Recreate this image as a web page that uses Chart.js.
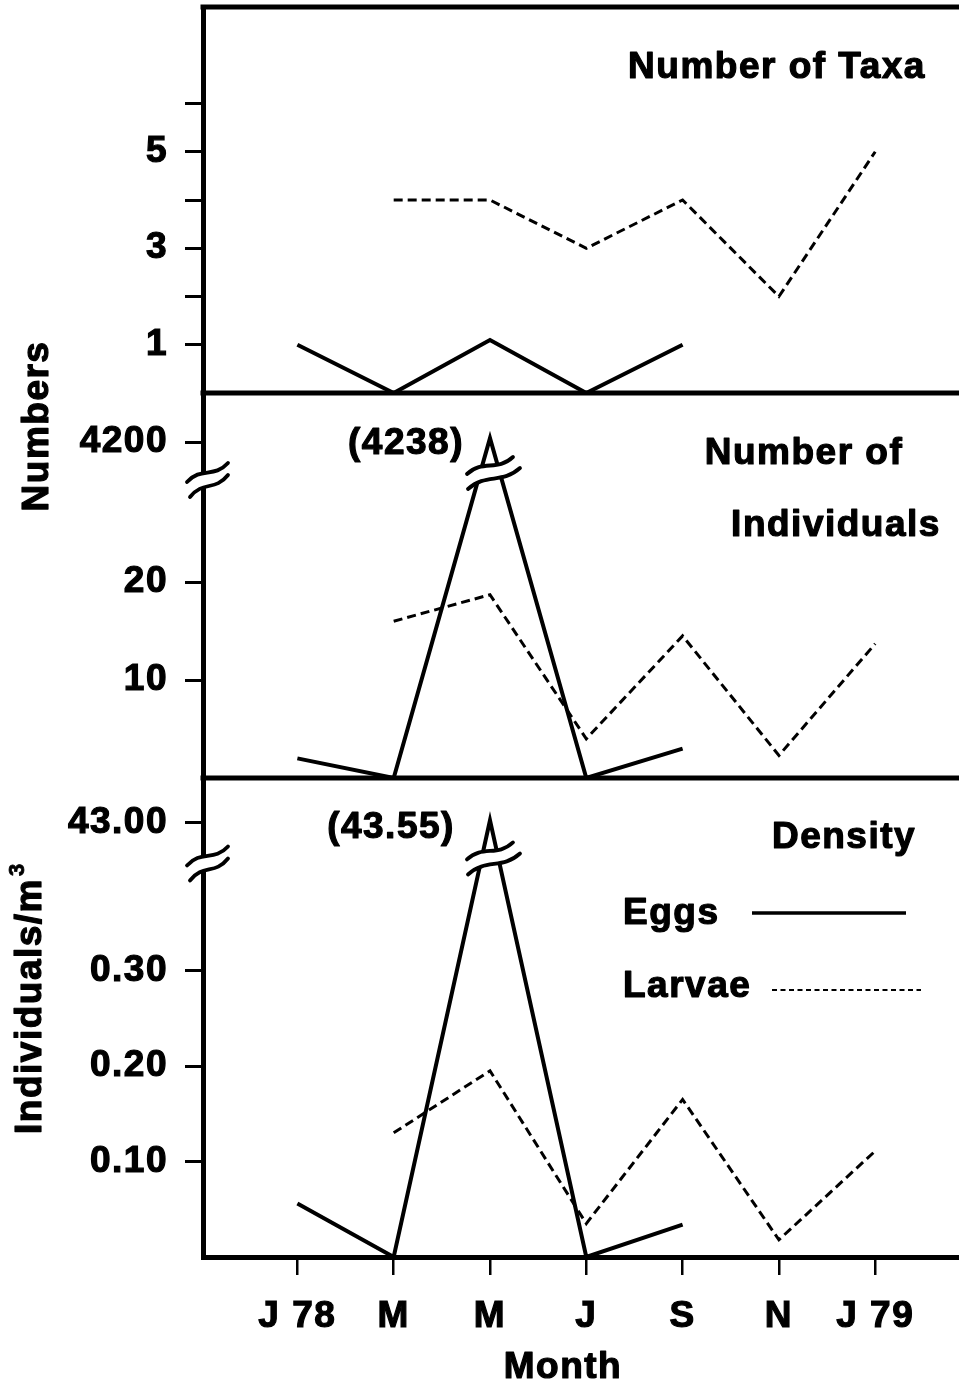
<!DOCTYPE html>
<html><head><meta charset="utf-8">
<script src="https://cdn.jsdelivr.net/npm/chart.js@4.4.1/dist/chart.umd.min.js"></script>
<style>html,body{margin:0;padding:0;background:#fff;overflow:hidden}canvas{display:block}</style>
</head><body>
<canvas id="c" width="959" height="1384"></canvas>
<script>
// ---- data ----
const monthPos = [0, 1, 2, 3, 4, 5, 6];
const monthLabels = ['J 78', 'M', 'M', 'J', 'S', 'N', 'J 79'];
const taxaEggs = [1, 0, 1.1, 0, 1, null, null];
const taxaLarvae = [null, 4, 4, 3, 4, 2, 5];
const indivEggs = [2, 0, 4238, 0, 3, null, null];
const indivLarvae = [null, 16, 18.7, 4, 14.5, 2.3, 13.7];
const densEggs = [0.056, 0, 43.55, 0, 0.034, null, null];
const densLarvae = [null, 0.13, 0.195, 0.035, 0.165, 0.018, 0.111];
const taxaTicks = [1, 2, 3, 4, 5, 6];
const taxaTickLabels = ['1', '', '3', '', '5', ''];
const indivTicks = [10, 20, 4200];
const indivTickLabels = ['10', '20', '4200'];
const densTicks = [0.1, 0.2, 0.3, 43];
const densTickLabels = ['0.10', '0.20', '0.30', '43.00'];
const peakLabels = ['(4238)', '(43.55)'];

// ---- broken linear scale ----
class BrokenScale extends Chart.LinearScale {
  getPixelForValue(v) {
    if (v === null || v === undefined) return NaN;
    const o = this.options;
    const h = this.bottom - this.top;
    const lowH = h * o.brkFrac;
    if (v <= o.brkLow) return this.bottom - (v - this.min) / (o.brkLow - this.min) * lowH;
    if (v < o.brkHigh) return this.bottom - lowH;
    return this.bottom - lowH - (v - o.brkHigh) / (this.max - o.brkHigh) * (h - lowH);
  }
  getValueForPixel(p) {
    const o = this.options;
    const h = this.bottom - this.top;
    const lowH = h * o.brkFrac;
    const d = this.bottom - p;
    if (d <= lowH) return this.min + d / lowH * (o.brkLow - this.min);
    return o.brkHigh + (d - lowH) / (h - lowH) * (this.max - o.brkHigh);
  }
}
BrokenScale.id = 'broken';
BrokenScale.defaults = Chart.LinearScale.defaults;
Chart.register(BrokenScale);

const FAM = "'Liberation Sans', Arial, Helvetica, sans-serif";
const F = (size) => ({ family: FAM, size, weight: 'bold' });
const xy = arr => monthPos.map((x, i) => ({ x, y: arr[i] }));
const solid = { borderColor: '#000', borderWidth: 4, pointRadius: 0, fill: false, tension: 0 };
const dashed = { borderColor: '#000', borderWidth: 3, borderDash: [9, 5], pointRadius: 0, fill: false, tension: 0 };

function zeroPad(s) { s.paddingTop = 0; s.paddingBottom = 0; s.paddingLeft = 0; s.paddingRight = 0; }
function yAxis(extra, ticks, labels) {
  return Object.assign({
    position: 'left', stack: 'panels',
    afterBuildTicks: s => { s.ticks = ticks.map(v => ({ value: v })); },
    afterFit: s => { s.width = 203; zeroPad(s); },
    ticks: { autoSkip: false, padding: 17, color: '#000', font: F(37), textStrokeColor: '#000', textStrokeWidth: 1.2,
             callback: v => { const i = ticks.indexOf(v); return i < 0 ? '' : labels[i]; } },
    grid: { drawOnChartArea: false, drawTicks: true, tickLength: 18, lineWidth: 3, color: '#000' },
    border: { display: true, width: 5, color: '#000' }
  }, extra);
}

const deco = {
  id: 'deco',
  beforeDraw(chart) { chart.ctx.letterSpacing = '1.5px'; },
  afterDraw(chart) {
    const { ctx, chartArea: ca, scales: s } = chart;
    const X = s.x, yT = s.yTaxa, yI = s.yInd, yD = s.yDen;
    ctx.save();
    ctx.strokeStyle = '#000'; ctx.fillStyle = '#000';
    // panel frame lines
    ctx.lineWidth = 5; ctx.lineCap = 'butt';
    [yT.top, yI.top, yD.top].forEach(y => {
      ctx.beginPath(); ctx.moveTo(ca.left - 2.5, y); ctx.lineTo(ca.right, y); ctx.stroke();
    });
    function wavePath(x0, y0, x1, y1) {
      const dx = x1 - x0, dy = y1 - y0;
      ctx.moveTo(x0, y0);
      ctx.bezierCurveTo(x0 + 0.35 * dx, y0 + 0.35 * dy - 9, x0 + 0.65 * dx, y0 + 0.65 * dy + 9, x1, y1);
    }
    function breakMark(cx, cy, a, b) {
      ctx.fillStyle = '#fff';
      ctx.beginPath();
      wavePath(cx + a[0], cy + a[1], cx + a[2], cy + a[3]);
      ctx.lineTo(cx + b[2], cy + b[3]);
      const dx = b[0] - b[2], dy = b[1] - b[3];
      ctx.bezierCurveTo(cx + b[2] + 0.35 * dx, cy + b[3] + 0.35 * dy + 9, cx + b[2] + 0.65 * dx, cy + b[3] + 0.65 * dy - 9, cx + b[0], cy + b[1]);
      ctx.closePath();
      ctx.fill();
      ctx.lineWidth = 3.8; ctx.lineCap = 'round';
      ctx.beginPath(); wavePath(cx + a[0], cy + a[1], cx + a[2], cy + a[3]); ctx.stroke();
      ctx.beginPath(); wavePath(cx + b[0], cy + b[1], cx + b[2], cy + b[3]); ctx.stroke();
    }
    const ax = ca.left + 4;
    const axA = [-20, 3, 21, -16], axB = [-17, 18, 21, -4];
    breakMark(ax, yI.getPixelForValue(yI.options.brkLow) - 5, axA, axB);
    breakMark(ax, yD.getPixelForValue(yD.options.brkLow) - 3, axA, axB);
    const px = X.getPixelForValue(2);
    const pkA = [-25, 2, 21, -15], pkB = [-24, 17, 28, -4];
    breakMark(px + 2, yI.getPixelForValue(yI.options.brkLow) - 12, pkA, pkB);
    breakMark(px + 2, yD.getPixelForValue(yD.options.brkLow) - 8, pkA, pkB);

    // texts
    ctx.fillStyle = '#000'; ctx.strokeStyle = '#000';
    ctx.letterSpacing = '1.5px';
    ctx.font = 'bold 37px ' + FAM;
    ctx.lineWidth = 1.2; ctx.lineJoin = 'round';
    ctx.textBaseline = 'alphabetic';
    const T = (t, x, y) => { ctx.fillText(t, x, y); ctx.strokeText(t, x, y); };
    ctx.textAlign = 'center';
    T('Number of Taxa', 777, 78);
    T('Number of', 804, 464);
    T('Individuals', 836, 536);
    T('Density', 844, 848);
    T(peakLabels[0], 406, 454);
    T(peakLabels[1], 391, 838);
    ctx.textAlign = 'left';
    T('Eggs', 623, 924);
    T('Larvae', 623, 997);
    // legend keys
    ctx.lineCap = 'butt';
    ctx.lineWidth = 3.4; ctx.setLineDash([]);
    ctx.beginPath(); ctx.moveTo(752, 913); ctx.lineTo(906, 913); ctx.stroke();
    ctx.lineWidth = 2.2; ctx.setLineDash([5, 3.5]);
    ctx.beginPath(); ctx.moveTo(772, 990); ctx.lineTo(921, 990); ctx.stroke();
    ctx.setLineDash([]);
    // rotated axis titles
    ctx.lineWidth = 1.2;
    ctx.textAlign = 'center';
    ctx.save(); ctx.translate(48, 426); ctx.rotate(-Math.PI / 2); T('Numbers', 0, 0); ctx.restore();
    ctx.save(); ctx.translate(41, 1000); ctx.rotate(-Math.PI / 2);
    ctx.textAlign = 'right'; T('Individuals/m', 122, 0);
    ctx.font = 'bold 22px ' + FAM; ctx.textAlign = 'left'; ctx.lineWidth = 0.8;
    T('3', 124, -17);
    ctx.restore();
    // x axis title
    ctx.font = 'bold 37px ' + FAM; ctx.textAlign = 'center'; ctx.lineWidth = 1.2;
    T('Month', 563, 1378);
    ctx.restore();
  }
};

new Chart(document.getElementById('c'), {
  type: 'line',
  data: {
    datasets: [
      Object.assign({ label: 'Eggs', data: xy(taxaEggs), yAxisID: 'yTaxa' }, solid),
      Object.assign({ label: 'Larvae', data: xy(taxaLarvae), yAxisID: 'yTaxa' }, dashed),
      Object.assign({ label: 'Eggs', data: xy(indivEggs), yAxisID: 'yInd' }, solid),
      Object.assign({ label: 'Larvae', data: xy(indivLarvae), yAxisID: 'yInd' }, dashed),
      Object.assign({ label: 'Eggs', data: xy(densEggs), yAxisID: 'yDen' }, solid),
      Object.assign({ label: 'Larvae', data: xy(densLarvae), yAxisID: 'yDen' }, dashed)
    ]
  },
  options: {
    responsive: false, animation: false, events: [],
    layout: { padding: { top: 7, left: 0, right: 0, bottom: 0 } },
    plugins: { legend: { display: false }, tooltip: { enabled: false } },
    scales: {
      x: {
        type: 'linear', position: 'bottom', min: -0.98, max: 6.87,
        afterBuildTicks: s => { s.ticks = monthPos.map(v => ({ value: v })); },
        afterFit: s => { s.height = 127; zeroPad(s); },
        ticks: { autoSkip: false, maxRotation: 0, padding: 20, color: '#000', font: F(37), textStrokeColor: '#000', textStrokeWidth: 1.2,
                 callback: v => { const i = monthPos.indexOf(v); return i < 0 ? '' : monthLabels[i]; } },
        grid: { drawOnChartArea: false, drawTicks: true, tickLength: 18, lineWidth: 2.5, color: '#000' },
        border: { display: true, width: 5, color: '#000' },
        title: { display: false, text: 'Month' }
      },
      yDen: yAxis({ type: 'broken', stackWeight: 479, weight: 1, min: 0, max: 54.14,
                    brkLow: 0.41, brkHigh: 32.25, brkFrac: 0.8174 }, densTicks, densTickLabels),
      yInd: yAxis({ type: 'broken', stackWeight: 385, weight: 2, min: 0, max: 4690,
                    brkLow: 30, brkHigh: 3780, brkFrac: 0.7636 }, indivTicks, indivTickLabels),
      yTaxa: yAxis({ type: 'linear', stackWeight: 386, weight: 3, min: 0, max: 8 }, taxaTicks, taxaTickLabels)
    }
  },
  plugins: [deco]
});
</script>
</body></html>
